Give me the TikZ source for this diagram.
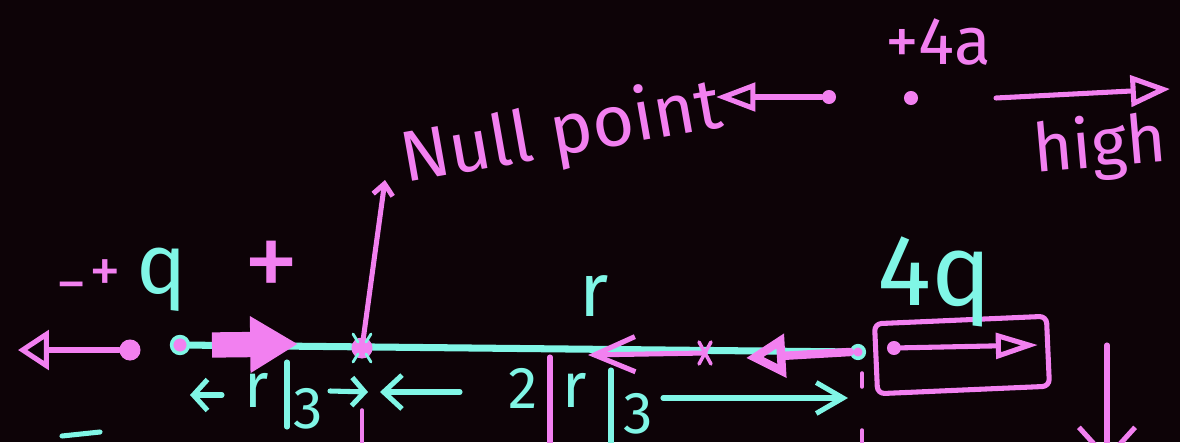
\documentclass[tikz,border=0pt]{standalone}
\usepackage{fontspec}
\setmainfont{Fira Sans}
\usetikzlibrary{arrows.meta,positioning}
\definecolor{board}{RGB}{13,3,7}
\definecolor{pen}{RGB}{242,128,240}
\definecolor{ink}{RGB}{128,246,230}

\begin{document}
\begin{tikzpicture}[x=0.025cm, y=-0.025cm, >=Stealth,
  pk/.style={draw=pen, line width=3.6pt, line cap=round, line join=round},
  cy/.style={draw=ink, line width=3.6pt, line cap=round, line join=round},
  pktext/.style={text=pen, inner sep=0pt, font=\fontsize{#1}{#1}\selectfont},
  cytext/.style={text=ink, inner sep=0pt, font=\fontsize{#1}{#1}\selectfont},
  dot/.style={circle, fill=pen, inner sep=0pt, minimum size=#1},
  ring/.style={circle, draw=ink, fill=pen, line width=2.5pt, inner sep=0pt, minimum size=#1}]
\useasboundingbox (0,0) rectangle (1180,442);
\fill[board] (0,0) rectangle (1180,442);
\clip (0,0) rectangle (1180,442);

\node[dot=15pt] (q) at (130,350) {};
\coordinate (qtip) at (18,350);
\draw[pk, -{Triangle[open, length=22pt, width=28pt]}] (q) -- (qtip);
\node[pktext=43] (minus) at (72,293) {−};
\node[pktext=45] (plus) at (105,276) {+};
\node[cytext=60] (qlabel) at (162,280) {q};
\node[pktext=80, font=\fontsize{80}{80}\selectfont\addfontfeature{FakeBold=-0.3}] (plusb) at (272,270) {+};

\node[ring=12pt] (start) at (180,345) {};
\node[ring=9pt] (end) at (858,352) {};
\draw[cy, line width=5pt] (start) -- (end);

\coordinate (pushA) at (212,345);
\coordinate (pushB) at (298,344);
\draw[pk, line width=18pt, line cap=butt, -{Triangle[length=34pt, width=38pt]}] (pushA) -- (pushB);

\node[dot=15pt] (null) at (362,348) {};
\draw[cy, line width=2pt] (null) +(-9,-14) -- +(-4,-6) (null) +(9,-14) -- +(4,-6)
  (null) +(-9,14) -- +(-4,6) (null) +(9,14) -- +(4,6);
\coordinate (nulltip) at (385,180);
\draw[pk, -{Straight Barb[length=8pt, width=14pt]}] (null) -- (nulltip);
\node[pktext=51, rotate=10, anchor=base west] (nulltext) at (405,183) {Null point};

\node[dot=10pt] (far) at (829,97) {};
\coordinate (fartip) at (716,97);
\draw[pk, -{Triangle[open, length=28pt, width=20pt]}] (far) -- (fartip);
\node[dot=10pt] (fourA) at (911,98) {};
\node[pktext=48] (fourAlabel) at (938,42) {+4a};
\coordinate (highA) at (996,98);
\coordinate (highB) at (1170,89);
\draw[pk, -{Triangle[open, length=28pt, width=22pt]}] (highA) -- (highB);
\node[pktext=48, rotate=5] (high) at (1100,148) {high};

\node[cytext=54] (rlabel) at (594,296) {r};
\coordinate (cross) at (705,353);
\coordinate (crosstip) at (588,355);
\draw[pk, -{Straight Barb[length=29pt, width=25pt]}] (cross) -- (crosstip);
\draw[pk, line width=2.5pt] (cross) +(-6,-11) -- +(6,11) (cross) +(6,-11) -- +(-6,11);

\coordinate (back) at (850,352);
\coordinate (backtip) at (746,358);
\draw[pk, line width=6pt, -{Triangle[open, length=28pt, width=30pt]}] (back) -- (backtip);

\node[pk, draw, rotate=2.5, minimum width=4.3cm, minimum height=1.75cm, rounded corners=5pt] (box) at (962,355) {};
\node[dot=10pt] (inner) at (894,348) {};
\coordinate (innertip) at (1038,345);
\draw[pk, -{Triangle[open, length=30pt, width=18pt]}] (inner) -- (innertip);
\node[cytext=72] (fourq) at (935,282) {4q};

\coordinate (l1a) at (222,395);
\coordinate (l1b) at (190,395);
\draw[cy, -{Straight Barb[length=10pt, width=22pt]}] (l1a) -- (l1b);
\node[cytext=45] (r1) at (257,390) {r};
\draw[cy] (287,362) -- (287,427);
\node[cytext=42] (three1) at (308,409) {3};
\coordinate (r1a) at (330,391);
\coordinate (r1b) at (368,392);
\draw[cy, -{Straight Barb[length=9pt, width=20pt]}] (r1a) -- (r1b);
\coordinate (l2a) at (460,392);
\coordinate (l2b) at (380,392);
\draw[cy, -{Straight Barb[length=13pt, width=24pt]}] (l2a) -- (l2b);
\node[cytext=42] (two) at (523,388) {2};
\draw[pk] (550,357) -- (550,450);
\node[cytext=45] (r2) at (575,390) {r};
\draw[cy] (611,370) -- (611,450);
\node[cytext=42] (three2) at (638,414) {3};
\coordinate (r2a) at (663,398);
\coordinate (r2b) at (848,398);
\draw[cy, -{Straight Barb[length=19pt, width=22pt]}] (r2a) -- (r2b);

\draw[pk, line width=2.5pt] (362,410) -- (362,450);
\draw[pk, line width=2.5pt] (862,373) -- (862,387) (862,430) -- (862,450);
\coordinate (downA) at (1107,345);
\coordinate (downB) at (1107,462);
\draw[pk, -{Straight Barb[length=22pt, width=40pt]}] (downA) -- (downB);
\draw[cy] (62,436) -- (100,432);
\end{tikzpicture}
\end{document}
